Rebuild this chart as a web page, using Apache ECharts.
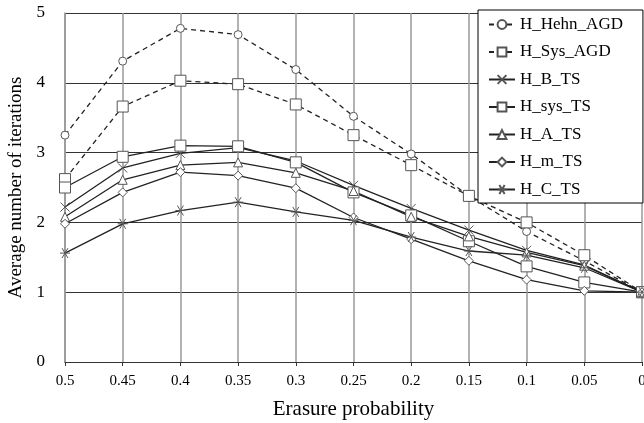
<!DOCTYPE html>
<html><head><meta charset="utf-8">
<script src="https://cdn.jsdelivr.net/npm/echarts@6/dist/echarts.min.js"></script>
<style>html,body{margin:0;padding:0;background:#fff}#c{width:644px;height:423px}</style>
</head><body><div id="c"></div>
<script>
const categories = ['0.5','0.45','0.4','0.35','0.3','0.25','0.2','0.15','0.1','0.05','0'];
const hHehnAGD = [3.25, 4.31, 4.78, 4.69, 4.19, 3.52, 2.98, 2.38, 1.87, 1.45, 1.0];
const hSysAGD  = [2.62, 3.66, 4.03, 3.98, 3.69, 3.25, 2.82, 2.38, 2.00, 1.53, 1.0];
const hBTS     = [2.22, 2.78, 2.99, 3.07, 2.88, 2.53, 2.20, 1.89, 1.60, 1.39, 1.0];
const hSysTS   = [2.50, 2.94, 3.10, 3.09, 2.86, 2.43, 2.10, 1.73, 1.37, 1.14, 1.0];
const hATS     = [2.08, 2.61, 2.82, 2.86, 2.71, 2.45, 2.08, 1.80, 1.57, 1.38, 1.0];
const hMTS     = [1.98, 2.43, 2.72, 2.67, 2.49, 2.07, 1.76, 1.45, 1.18, 1.02, 1.0];
const hCTS     = [1.56, 1.98, 2.17, 2.29, 2.15, 2.03, 1.79, 1.59, 1.53, 1.35, 1.0];
const seriesNames = ['H_Hehn_AGD','H_Sys_AGD','H_B_TS','H_sys_TS','H_A_TS','H_m_TS','H_C_TS'];

const FONT = '"Liberation Serif", "DejaVu Serif", serif';
const xSym = 'path://M0,0L10,10M10,0L0,10';
const starSym = 'path://M0,5L10,5M2,1L8,9M8,1L2,9';

function mk(name, data, symbol, size, dashed) {
  return {
    name, type: 'line', data, symbol, symbolSize: size,
    lineStyle: { color: '#222', width: 1.3, type: dashed ? [5,4] : 'solid' },
    itemStyle: { color: '#fff', borderColor: '#555', borderWidth: 1 },
    emphasis: { disabled: true }, animation: false
  };
}
const chart = echarts.init(document.getElementById('c'), null, { renderer: 'canvas' });
chart.setOption({
  animation: false,
  textStyle: { fontFamily: FONT },
  grid: { left: 65, right: 2, top: 13, bottom: 61, containLabel: false, outerBoundsMode: 'none' },
  legend: {
    orient: 'vertical', left: 478, top: 10,
    backgroundColor: '#fff', borderColor: '#000', borderWidth: 1,
    padding: [6, 20, 5, 10], itemGap: 10.5, itemWidth: 26, itemHeight: 11,
    textStyle: { fontFamily: FONT, fontSize: 17, color: '#000' },
    data: seriesNames
  },
  xAxis: {
    type: 'category', data: categories, boundaryGap: false,
    name: 'Erasure probability', nameLocation: 'middle', nameGap: 37,
    nameTextStyle: { fontFamily: FONT, fontSize: 21, color: '#000' },
    axisLine: { lineStyle: { color: '#333', width: 1 } },
    axisTick: { show: true, length: 4, lineStyle: { color: '#333' } },
    axisLabel: { fontFamily: FONT, fontSize: 15, color: '#000', margin: 12 },
    splitLine: { show: true, lineStyle: { color: '#999', width: 1.5 } }
  },
  yAxis: {
    type: 'value', min: 0, max: 5, interval: 1,
    name: 'Average number of iterations', nameLocation: 'middle', nameGap: 37,
    nameTextStyle: { fontFamily: FONT, fontSize: 19, color: '#000' },
    axisLine: { show: true, lineStyle: { color: '#999', width: 1.5 } },
    axisTick: { show: false },
    axisLabel: { fontFamily: FONT, fontSize: 17, color: '#000', margin: 20 },
    splitLine: { show: true, lineStyle: { color: '#333', width: 1 } }
  },
  series: [
    mk('H_Hehn_AGD', hHehnAGD, 'circle', 8, true),
    mk('H_Sys_AGD', hSysAGD, 'rect', 11, true),
    mk('H_B_TS', hBTS, xSym, 9, false),
    mk('H_sys_TS', hSysTS, 'rect', 11, false),
    mk('H_A_TS', hATS, 'triangle', 9, false),
    mk('H_m_TS', hMTS, 'diamond', 9, false),
    mk('H_C_TS', hCTS, starSym, 10, false)
  ]
});
</script></body></html>
